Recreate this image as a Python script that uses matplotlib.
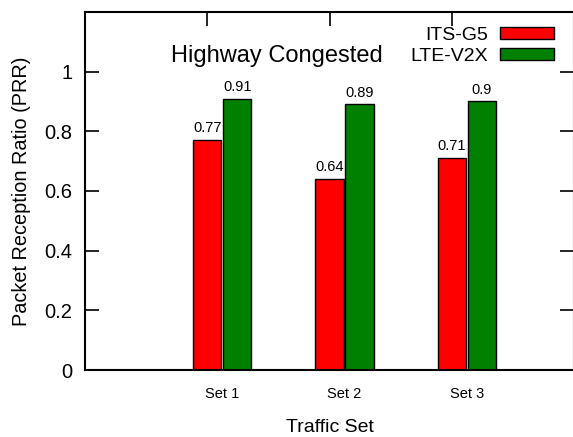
import matplotlib
matplotlib.use("Agg")
import matplotlib.pyplot as plt

plt.rcParams['font.family'] = ['Liberation Sans', 'DejaVu Sans']

# data
sets = ["Set 1", "Set 2", "Set 3"]
its_g5 = [0.77, 0.64, 0.71]
lte_v2x = [0.91, 0.89, 0.90]

x = list(range(len(sets)))
width = 0.23
offset = 0.245

fig = plt.figure(figsize=(5.73, 4.37), dpi=100)
ax = fig.add_axes([85 / 573, 1 - 370 / 437, 489 / 573, 358 / 437])

b1 = ax.bar(x, its_g5, width, color='#ff0000', edgecolor='black', linewidth=1, label='ITS-G5')
b2 = ax.bar([i + offset for i in x], lte_v2x, width, color='#008000', edgecolor='black', linewidth=1, label='LTE-V2X')

# value labels above bars
for bars, vals in ((b1, its_g5), (b2, lte_v2x)):
    for bar, v in zip(bars, vals):
        ax.annotate(f"{v:g}", (bar.get_x() + bar.get_width() / 2, v),
                    xytext=(0, 3.5), textcoords='offset points',
                    ha='center', va='bottom', fontsize=10.5)

ax.set_xlim(-1, 3)
ax.set_ylim(0, 1.2)

ax.set_yticks([0, 0.2, 0.4, 0.6, 0.8, 1.0])
ax.set_yticklabels(["0", "0.2", "0.4", "0.6", "0.8", "1"])
ax.tick_params(axis='y', direction='in', length=10, width=1.2, right=True, labelsize=14.5, pad=9)

ax.set_xticks([i + offset / 2 for i in x])
ax.set_xticklabels(sets)
ax.set_xticks([0, 1, 2, 3], minor=True)
ax.tick_params(axis='x', which='major', length=0, labelsize=10.5, pad=12)
ax.tick_params(axis='x', which='minor', direction='in', length=10, width=1.2, bottom=False, top=True)

for s in ax.spines.values():
    s.set_linewidth(1.5)

ax.set_ylabel("Packet Reception Ratio (PRR)", fontsize=14.3, va='center')
ax.yaxis.set_label_coords(-0.129, 0.5)
ax.set_xlabel("Traffic Set", fontsize=14, va='center')
ax.xaxis.set_label_coords(0.5, -0.162)

ax.text(0.393, 0.877, "Highway Congested", transform=ax.transAxes,
        ha='center', va='center', fontsize=17)

ax.legend(loc='upper right', bbox_to_anchor=(0.959, 0.958), frameon=False,
          markerfirst=False, fontsize=14, handlelength=2.8, handleheight=0.6,
          handletextpad=0.6, labelspacing=0.2, borderpad=0, borderaxespad=0)

fig.savefig("out.png", dpi=100)
